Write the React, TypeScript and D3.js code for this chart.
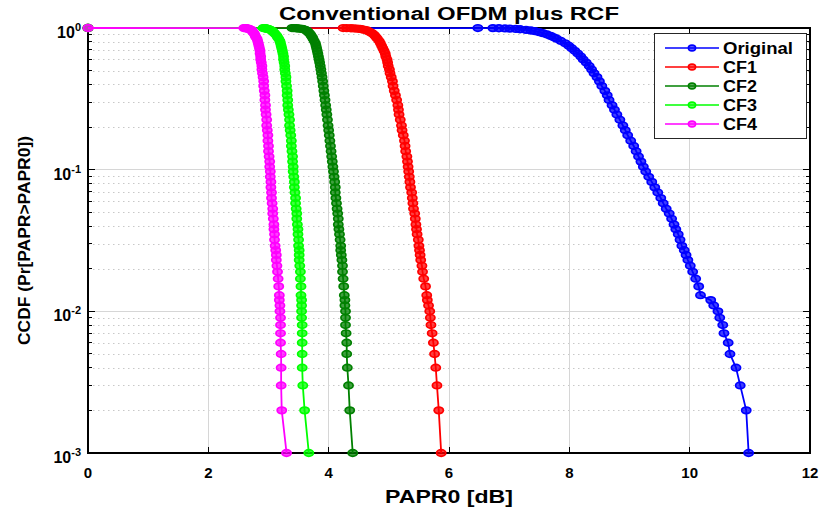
import { useEffect, useRef } from 'react'
import * as d3 from 'd3'

// CCDF levels Pr[PAPR > PAPR0], shared by every curve
const ccdfLevels = [
  1, 0.999, 0.998, 0.996, 0.993, 0.99, 0.985, 0.98, 0.97, 0.96, 0.95, 0.935, 0.92, 0.9,
  0.88, 0.86, 0.84, 0.81, 0.78, 0.75, 0.72, 0.69, 0.66, 0.63, 0.6,
  0.57, 0.54, 0.51, 0.48, 0.45, 0.42, 0.39, 0.36, 0.335, 0.31,
  0.285, 0.265, 0.245, 0.225, 0.205, 0.19, 0.175, 0.16, 0.147, 0.135,
  0.124, 0.114, 0.105, 0.097, 0.089, 0.082, 0.075, 0.069, 0.063, 0.058,
  0.053, 0.049, 0.045, 0.041, 0.038, 0.035, 0.032, 0.029, 0.027, 0.025,
  0.023, 0.021, 0.019, 0.017, 0.015, 0.013, 0.012, 0.011, 0.01, 0.009,
  0.008, 0.007, 0.006, 0.005, 0.004, 0.003, 0.002, 0.001,
]

// PAPR0 [dB], one value per level above
const originalPapr = [
  0, 6.48, 6.73, 6.83, 6.93, 7.01, 7.11, 7.18, 7.28, 7.36, 7.43, 7.5, 7.56, 7.63,
  7.69, 7.74, 7.79, 7.86, 7.93, 7.99, 8.04, 8.09, 8.14, 8.19, 8.23,
  8.28, 8.33, 8.37, 8.41, 8.46, 8.5, 8.54, 8.59, 8.63, 8.66,
  8.71, 8.75, 8.79, 8.84, 8.89, 8.93, 8.97, 9.02, 9.07, 9.11,
  9.15, 9.19, 9.23, 9.27, 9.32, 9.37, 9.42, 9.47, 9.52, 9.56,
  9.61, 9.66, 9.7, 9.74, 9.77, 9.81, 9.84, 9.87, 9.91, 9.94,
  9.97, 10.01, 10.05, 10.1, 10.15, 10.18, 10.35, 10.4, 10.47, 10.5,
  10.55, 10.57, 10.64, 10.67, 10.77, 10.84, 10.94, 10.98,
]
const cf1Papr = [
  0, 4.24, 4.3, 4.37, 4.42, 4.47, 4.52, 4.55, 4.6, 4.64, 4.66, 4.69, 4.72, 4.75,
  4.77, 4.79, 4.81, 4.84, 4.86, 4.88, 4.9, 4.92, 4.94, 4.95, 4.97,
  4.98, 4.99, 5.01, 5.02, 5.04, 5.06, 5.07, 5.09, 5.11, 5.13,
  5.15, 5.16, 5.17, 5.19, 5.21, 5.22, 5.24, 5.26, 5.27, 5.28,
  5.3, 5.31, 5.32, 5.33, 5.34, 5.35, 5.36, 5.38, 5.39, 5.4,
  5.41, 5.43, 5.44, 5.45, 5.46, 5.47, 5.49, 5.5, 5.51, 5.52,
  5.53, 5.55, 5.56, 5.58, 5.61, 5.63, 5.64, 5.66, 5.68, 5.69,
  5.7, 5.72, 5.74, 5.76, 5.78, 5.8, 5.83, 5.87,
]
const cf2Papr = [
  0, 3.39, 3.42, 3.46, 3.49, 3.52, 3.56, 3.58, 3.61, 3.63, 3.65, 3.66, 3.68, 3.7,
  3.71, 3.73, 3.74, 3.76, 3.78, 3.79, 3.8, 3.81, 3.82, 3.83, 3.84,
  3.85, 3.86, 3.87, 3.88, 3.89, 3.9, 3.91, 3.92, 3.93, 3.94,
  3.95, 3.96, 3.97, 3.98, 3.99, 4.0, 4.01, 4.02, 4.03, 4.04,
  4.05, 4.06, 4.07, 4.08, 4.09, 4.1, 4.11, 4.11, 4.12, 4.13,
  4.14, 4.15, 4.16, 4.16, 4.17, 4.18, 4.19, 4.2, 4.2, 4.21,
  4.22, 4.23, 4.23, 4.24, 4.25, 4.26, 4.27, 4.27, 4.28, 4.28,
  4.28, 4.29, 4.3, 4.3, 4.31, 4.33, 4.35, 4.4,
]
const cf3Papr = [
  0, 2.91, 2.93, 2.94, 2.96, 2.97, 2.99, 3.01, 3.03, 3.05, 3.07, 3.08, 3.1, 3.12,
  3.14, 3.15, 3.17, 3.19, 3.2, 3.21, 3.22, 3.23, 3.24, 3.25, 3.25,
  3.26, 3.27, 3.27, 3.28, 3.29, 3.29, 3.3, 3.31, 3.31, 3.32,
  3.32, 3.33, 3.34, 3.35, 3.35, 3.36, 3.37, 3.38, 3.38, 3.39,
  3.4, 3.4, 3.41, 3.41, 3.42, 3.43, 3.43, 3.44, 3.45, 3.45,
  3.46, 3.47, 3.47, 3.48, 3.49, 3.49, 3.5, 3.5, 3.51, 3.51,
  3.51, 3.52, 3.53, 3.53, 3.54, 3.54, 3.55, 3.55, 3.55, 3.55,
  3.56, 3.56, 3.56, 3.56, 3.56, 3.57, 3.6, 3.67,
]
const cf4Papr = [
  0, 2.59, 2.61, 2.63, 2.64, 2.66, 2.68, 2.69, 2.71, 2.73, 2.73, 2.74, 2.76, 2.77,
  2.78, 2.79, 2.81, 2.82, 2.83, 2.84, 2.85, 2.86, 2.86, 2.87, 2.87,
  2.88, 2.89, 2.89, 2.9, 2.91, 2.92, 2.92, 2.93, 2.94, 2.94,
  2.95, 2.95, 2.96, 2.97, 2.97, 2.98, 2.99, 2.99, 3.0, 3.0,
  3.01, 3.02, 3.02, 3.03, 3.03, 3.04, 3.04, 3.05, 3.05, 3.06,
  3.07, 3.07, 3.08, 3.09, 3.09, 3.1, 3.1, 3.11, 3.12, 3.13,
  3.13, 3.14, 3.15, 3.16, 3.17, 3.18, 3.18, 3.19, 3.19, 3.2,
  3.2, 3.2, 3.2, 3.21, 3.21, 3.21, 3.22, 3.3,
]

const seriesNames = ['Original', 'CF1', 'CF2', 'CF3', 'CF4']
const seriesColors = ['#0000ff', '#ff0000', '#008000', '#00ff00', '#ff00ff']
const seriesPapr = [originalPapr, cf1Papr, cf2Papr, cf3Papr, cf4Papr]

const xTicks = [0, 2, 4, 6, 8, 10, 12]
const yTicks = [1, 0.1, 0.01, 0.001]
const yTickExp = ['0', '-1', '-2', '-3']

type Pt = { x: number; y: number }

export default function App() {
  const svgRef = useRef<SVGSVGElement>(null)

  useEffect(() => {
    draw()
  }, [])

  function draw() {
    const width = 821
    const height = 510
    const marginTop = 28
    const marginRight = 11
    const marginBottom = 57
    const marginLeft = 88
    const font = '"Liberation Sans", Arial, Helvetica, sans-serif'

    const x = d3.scaleLinear().domain([0, 12]).range([marginLeft, width - marginRight])
    const y = d3.scaleLog().domain([0.001, 1]).range([height - marginBottom, marginTop])
    const x0 = x(0), x1 = x(12), y0 = y(0.001), y1 = y(1)

    const svg = d3.select(svgRef.current)
    svg.selectAll('*').remove()
    svg.attr('width', width).attr('height', height).style('font-family', font)
    svg.append('rect').attr('width', width).attr('height', height).attr('fill', '#fff')

    // minor grid (dotted) at 2..9 x 10^k
    const minorTicks = y.ticks().filter((t) => Math.abs(Math.log10(t) - Math.round(Math.log10(t))) > 1e-6)
    svg.append('g')
      .selectAll('line')
      .data(minorTicks)
      .join('line')
      .attr('x1', x0).attr('x2', x1)
      .attr('y1', (d) => Math.round(y(d)) + 0.5).attr('y2', (d) => Math.round(y(d)) + 0.5)
      .attr('stroke', '#c8c8c8')
      .attr('stroke-dasharray', '1.5,3.5')

    // major grid
    const grid = svg.append('g').attr('stroke', '#d6d6d6').attr('shape-rendering', 'crispEdges')
    grid.selectAll('.gx')
      .data(xTicks.slice(1, -1))
      .join('line')
      .attr('x1', (d) => x(d)).attr('x2', (d) => x(d))
      .attr('y1', y1).attr('y2', y0)
    grid.selectAll('.gy')
      .data(yTicks.slice(1, -1))
      .join('line')
      .attr('x1', x0).attr('x2', x1)
      .attr('y1', (d) => y(d)).attr('y2', (d) => y(d))

    // box + ticks
    const axes = svg.append('g').attr('stroke', '#000').attr('shape-rendering', 'crispEdges')
    axes.append('rect')
      .attr('x', x0).attr('y', y1).attr('width', x1 - x0).attr('height', y0 - y1)
      .attr('fill', 'none').attr('stroke-width', 1.4)
    xTicks.slice(1, -1).forEach((t) => {
      axes.append('line').attr('x1', x(t)).attr('x2', x(t)).attr('y1', y0).attr('y2', y0 - 6)
      axes.append('line').attr('x1', x(t)).attr('x2', x(t)).attr('y1', y1).attr('y2', y1 + 6)
    })
    minorTicks.forEach((t) => {
      axes.append('line').attr('x1', x0).attr('x2', x0 + 4).attr('y1', y(t)).attr('y2', y(t))
      axes.append('line').attr('x1', x1).attr('x2', x1 - 4).attr('y1', y(t)).attr('y2', y(t))
    })
    yTicks.slice(1, -1).forEach((t) => {
      axes.append('line').attr('x1', x0).attr('x2', x0 + 7).attr('y1', y(t)).attr('y2', y(t))
      axes.append('line').attr('x1', x1).attr('x2', x1 - 7).attr('y1', y(t)).attr('y2', y(t))
    })

    // curves, Original first so the CF curves sit on top
    const line = d3.line<Pt>().x((d) => x(d.x)).y((d) => y(d.y))
    seriesNames.forEach((name, i) => {
      const pts: Pt[] = ccdfLevels.map((p, j) => ({ x: seriesPapr[i][j], y: p }))
      const g = svg.append('g').attr('class', name)
      g.append('path')
        .attr('d', line(pts))
        .attr('fill', 'none')
        .attr('stroke', seriesColors[i])
        .attr('stroke-width', 1.8)
      g.selectAll('ellipse')
        .data(pts)
        .join('ellipse')
        .attr('cx', (d) => x(d.x))
        .attr('cy', (d) => y(d.y))
        .attr('rx', 4.6)
        .attr('ry', 3.3)
        .attr('fill', seriesColors[i])
        .attr('fill-opacity', 0.75)
        .attr('stroke', seriesColors[i])
        .attr('stroke-width', 1.7)
    })

    // tick labels
    svg.append('g')
      .attr('font-size', 15).attr('font-weight', 'bold').attr('text-anchor', 'middle')
      .selectAll('text')
      .data(xTicks)
      .join('text')
      .attr('x', (d) => x(d))
      .attr('y', y0 + 25)
      .text((d) => d)
    const yl = svg.append('g').attr('font-weight', 'bold').attr('text-anchor', 'end')
    yTicks.forEach((t, i) => {
      const tx = yl.append('text')
        .attr('x', x0 - 7)
        .attr('y', y(t) + 10)
        .attr('font-size', 16)
      tx.append('tspan').text('10')
      tx.append('tspan').attr('dy', -7).attr('font-size', 11).text(yTickExp[i])
    })

    // titles
    svg.append('text')
      .attr('x', (x0 + x1) / 2).attr('y', 20)
      .attr('text-anchor', 'middle').attr('font-size', 18).attr('font-weight', 'bold')
      .attr('textLength', 340).attr('lengthAdjust', 'spacingAndGlyphs')
      .text('Conventional OFDM plus RCF')
    svg.append('text')
      .attr('x', (x0 + x1) / 2).attr('y', 503)
      .attr('text-anchor', 'middle').attr('font-size', 18).attr('font-weight', 'bold')
      .attr('textLength', 128).attr('lengthAdjust', 'spacingAndGlyphs')
      .text('PAPR0 [dB]')
    svg.append('text')
      .attr('transform', `translate(30,${(y0 + y1) / 2}) rotate(-90)`)
      .attr('text-anchor', 'middle').attr('font-size', 16).attr('font-weight', 'bold')
      .attr('textLength', 209).attr('lengthAdjust', 'spacingAndGlyphs')
      .text('CCDF (Pr[PAPR>PAPR0])')

    // legend
    const lg = svg.append('g').attr('transform', 'translate(654,33)')
    lg.append('rect')
      .attr('width', 152).attr('height', 105)
      .attr('fill', '#fff').attr('stroke', '#262626').attr('stroke-width', 1)
      .attr('shape-rendering', 'crispEdges')
    seriesNames.forEach((name, i) => {
      const ry = 15 + i * 19
      lg.append('line')
        .attr('x1', 11).attr('x2', 65).attr('y1', ry).attr('y2', ry)
        .attr('stroke', seriesColors[i]).attr('stroke-width', 1.6)
      lg.append('ellipse')
        .attr('cx', 38).attr('cy', ry).attr('rx', 3.6).attr('ry', 2.9)
        .attr('fill', seriesColors[i]).attr('fill-opacity', 0.6)
        .attr('stroke', seriesColors[i]).attr('stroke-width', 1.6)
      lg.append('text')
        .attr('x', 69).attr('y', ry + 6)
        .attr('font-size', 16).attr('font-weight', 'bold')
        .attr('textLength', name.length > 3 ? 70 : 34).attr('lengthAdjust', 'spacingAndGlyphs')
        .text(name)
    })
  }

  return (
    <div style={{ position: 'absolute', left: 0, top: 0 }}>
      <svg ref={svgRef}></svg>
    </div>
  )
}
